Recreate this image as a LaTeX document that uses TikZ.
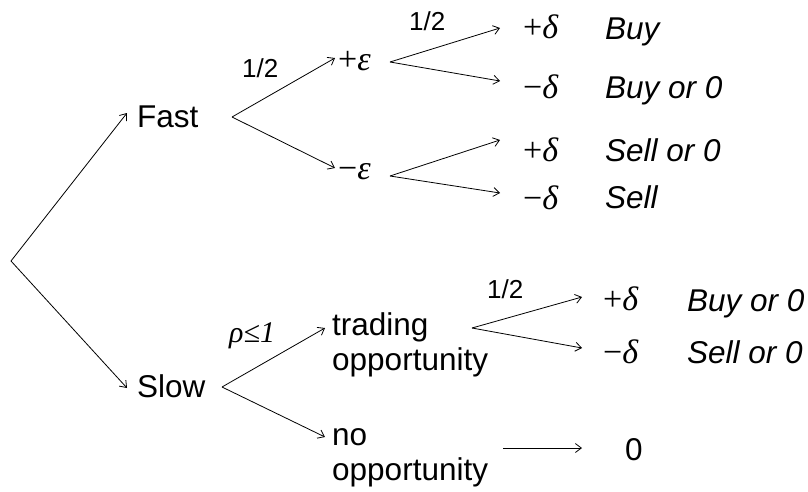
\documentclass[tikz,border=0pt]{standalone}
\usepackage{fontspec}
\setmainfont{Liberation Sans}
\newfontfamily\grk{Liberation Serif}
\usetikzlibrary{arrows.meta}
\begin{document}
\begin{tikzpicture}[x=1pt,y=-1pt,
  lbl/.style={anchor=base west,inner sep=0pt,font=\fontsize{31.5}{31.5}\selectfont},
  res/.style={lbl,font=\fontsize{31.5}{31.5}\selectfont\itshape},
  grkl/.style={lbl,font=\fontsize{34}{34}\selectfont\grk},
  prob/.style={lbl,font=\fontsize{26}{26}\selectfont},
  arr/.style={-{Straight Barb[length=6pt,width=9pt]},line width=0.8pt}]
\useasboundingbox (0,0) rectangle (808,491);
% vertices
\coordinate (root) at (11,261);
\coordinate (fastv) at (232,117);
\coordinate (pev) at (390,62);
\coordinate (mev) at (390,176);
\coordinate (slowv) at (222,387);
\coordinate (tradev) at (472,328);
% texts
\node[lbl] (fast) at (137,127) {Fast};
\node[lbl] (slow) at (137,397) {Slow};
\node[grkl] (pe) at (338,70) {+\textit{ε}};
\node[grkl] (me) at (338,179) {−\textit{ε}};
\node[grkl] (pd1) at (523,38) {+\textit{δ}};
\node[grkl] (md1) at (523,98) {−\textit{δ}};
\node[grkl] (pd2) at (523,161) {+\textit{δ}};
\node[grkl] (md2) at (523,209) {−\textit{δ}};
\node[res] (r1) at (605,39) {Buy};
\node[res] (r2) at (605,98) {Buy or 0};
\node[res] (r3) at (605,161) {Sell or 0};
\node[res] (r4) at (605,208) {Sell};
\node[lbl] (trade1) at (332,335) {trading};
\node[lbl] (trade2) at (332,370) {opportunity};
\node[lbl] (no1) at (332,445) {no};
\node[lbl] (no2) at (332,480) {opportunity};
\node[grkl] (pd3) at (603,310) {+\textit{δ}};
\node[grkl] (md3) at (603,363) {−\textit{δ}};
\node[res] (r5) at (687,311) {Buy or 0};
\node[res] (r6) at (687,363) {Sell or 0};
\node[lbl] (zero) at (625,460) {0};
\node[prob] (p1) at (242,77) {1/2};
\node[prob] (p2) at (409,30) {1/2};
\node[prob] (p3) at (487,298) {1/2};
\node[lbl,font=\fontsize{30}{30}\selectfont\grk\itshape] (rho) at (229,342) {ρ≤1};
% connectors
\draw[arr] (root) -- ([xshift=-10pt,yshift=14pt]fast.base west);
\draw[arr] (root) -- ([xshift=-10pt,yshift=9pt]slow.base west);
\draw[arr] (fastv) -- ([xshift=-3pt,yshift=12pt]pe.base west);
\draw[arr] (fastv) -- ([xshift=-3pt,yshift=11pt]me.base west);
\draw[arr] (pev) -- ([xshift=-23pt,yshift=10pt]pd1.base west);
\draw[arr] (pev) -- ([xshift=-23pt,yshift=17pt]md1.base west);
\draw[arr] (mev) -- ([xshift=-23pt,yshift=21pt]pd2.base west);
\draw[arr] (mev) -- ([xshift=-23pt,yshift=16pt]md2.base west);
\draw[arr] (slowv) -- ([xshift=-7pt,yshift=7pt]trade1.base west);
\draw[arr] (slowv) -- ([xshift=-7pt,yshift=8pt]no1.base west);
\draw[arr] (tradev) -- ([xshift=-21pt,yshift=13pt]pd3.base west);
\draw[arr] (tradev) -- ([xshift=-21pt,yshift=15pt]md3.base west);
\draw[arr] ([xshift=15pt,yshift=32pt]no2.base east) -- ([xshift=-43pt,yshift=12pt]zero.base west);
\end{tikzpicture}
\end{document}
